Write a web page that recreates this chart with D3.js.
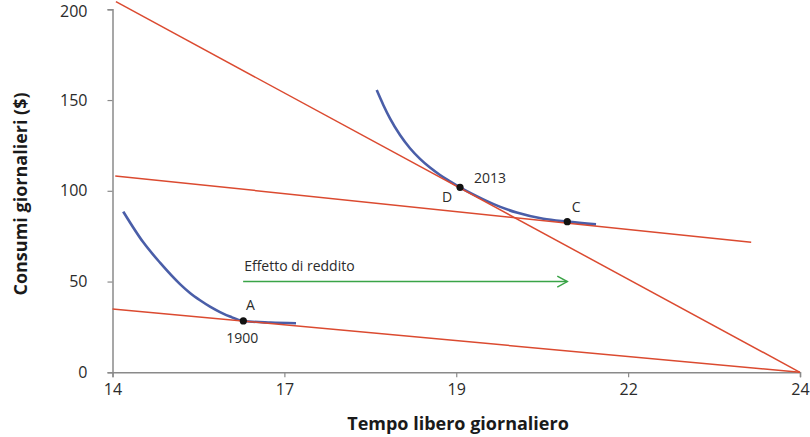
<!DOCTYPE html>
<html>
<head>
<meta charset="utf-8">
<script src="https://cdn.jsdelivr.net/npm/d3@7"></script>
<style>
  html, body { margin: 0; padding: 0; background: #fff; }
  svg { display: block; font-family: "Open Sans", "Noto Sans", sans-serif; }
</style>
</head>
<body>
<svg id="chart" width="810" height="437"></svg>
<script>
// ---- data ----
const xTickValues = [14, 16.5, 19, 21.5, 24];
const xTickLabels = ["14", "17", "19", "22", "24"];
const yTickValues = [0, 50, 100, 150, 200];

const budget2013 = [[14.05, 204.2], [24, 0]];
const budget1900 = [[14, 34.9], [24, 0]];
const budgetComp = [[14.04, 108.2], [23.29, 71.6]];

const indiff1900 = [
  [14.157, 88.5], [14.448, 71.6], [14.691, 60.4], [14.982, 48.6],
  [15.127, 43.7], [15.273, 39.7], [15.418, 36.2], [15.564, 33.2],
  [15.709, 30.7], [15.903, 28.3], [16.3, 27.4], [16.669, 27.0]
];
const indiff2013 = [
  [17.843, 155.5], [17.939, 147.3], [18.036, 139.9], [18.182, 130.7],
  [18.327, 123.45], [18.473, 117.6], [18.618, 112.8], [18.764, 108.7],
  [18.909, 105.2], [19.055, 101.9], [19.393, 95.3], [19.65, 91.0],
  [19.879, 88.0], [20.266, 84.6], [20.615, 83.0], [21.033, 81.5]
];

const pointNames = ["A", "D", "C"];
const pointX = [15.903, 19.055, 20.615];
const pointY = [28.3, 101.9, 83.0];
const yearLabels = ["1900", "2013", ""];

const arrowFrom = [15.9, 50];
const arrowTo = [20.615, 50];
const arrowLabel = "Effetto di reddito";

const xTitle = "Tempo libero giornaliero";
const yTitle = "Consumi giornalieri ($)";

// ---- drawing ----
const svg = d3.select("#chart");
const x = d3.scaleLinear().domain([14, 24]).range([112.5, 800]);
const y = d3.scaleLinear().domain([0, 200]).range([372.3, 9.3]);

const axisColor = "#8a8a8a";
const textColor = "#2b2b2b";
const red = "#db4a30";
const blue = "#4a5ea8";
const green = "#3aa447";

// axes
const xAxis = svg.append("g").attr("transform", `translate(0,${y(0)})`)
  .call(d3.axisBottom(x).tickValues(xTickValues)
    .tickFormat((d, i) => xTickLabels[i]).tickSizeOuter(0).tickSize(5).tickPadding(6));
const yAxis = svg.append("g").attr("transform", `translate(${x(14)},0)`)
  .call(d3.axisLeft(y).tickValues(yTickValues).tickSizeOuter(0).tickSize(5).tickPadding(20));

[xAxis, yAxis].forEach(g => {
  g.select(".domain").attr("stroke", axisColor).attr("stroke-width", 1.5);
  g.selectAll(".tick line").attr("stroke", axisColor).attr("stroke-width", 1.2);
  g.selectAll(".tick text").attr("fill", textColor)
    .style("font-size", "16px").style("font-family", "'Open Sans', sans-serif");
});
yAxis.selectAll(".tick text").filter(d => d === 200).attr("dy", "0.38em").attr("y", 1);

// axis titles
svg.append("text").attr("x", 458).attr("y", 430)
  .attr("text-anchor", "middle").attr("fill", "#1a1a1a")
  .style("font-size", "18px").style("font-weight", "bold")
  .text(xTitle);
svg.append("text")
  .attr("transform", `translate(27,${194}) rotate(-90)`)
  .attr("text-anchor", "middle").attr("fill", "#1a1a1a")
  .style("font-size", "18px").style("font-weight", "bold")
  .text(yTitle);

const line = d3.line().x(d => x(d[0])).y(d => y(d[1]));
const curve = d3.line().x(d => x(d[0])).y(d => y(d[1])).curve(d3.curveMonotoneX);

// indifference curves
[indiff1900, indiff2013].forEach(data => {
  svg.append("path").attr("d", curve(data)).attr("fill", "none")
    .attr("stroke", blue).attr("stroke-width", 2.6).attr("stroke-linecap", "butt");
});

// budget lines
[budget2013, budget1900, budgetComp].forEach(data => {
  svg.append("path").attr("d", line(data)).attr("fill", "none")
    .attr("stroke", red).attr("stroke-width", 1.5);
});

// income effect arrow
const ax1 = x(arrowFrom[0]), ax2 = x(arrowTo[0]), ay = y(arrowFrom[1]);
svg.append("line").attr("x1", ax1).attr("x2", ax2).attr("y1", ay).attr("y2", ay)
  .attr("stroke", green).attr("stroke-width", 1.5);
svg.append("path")
  .attr("d", `M${ax2 - 10},${ay - 5.5}L${ax2},${ay}L${ax2 - 10},${ay + 5.5}`)
  .attr("fill", "none").attr("stroke", green).attr("stroke-width", 1.5);
svg.append("text").attr("x", ax1 + 1).attr("y", ay - 11)
  .attr("fill", textColor).style("font-size", "14px").text(arrowLabel);

// points
const pts = pointNames.map((n, i) => ({ name: n, x: pointX[i], y: pointY[i], year: yearLabels[i] }));
svg.selectAll("circle.pt").data(pts).enter().append("circle")
  .attr("class", "pt").attr("cx", d => x(d.x)).attr("cy", d => y(d.y)).attr("r", 3.6)
  .attr("fill", "#111");

const nameOffset = { A: [7, -16], D: [-13, 9], C: [9, -15.5] };
const yearOffset = { A: [-1, 17], D: [30, -10] };
svg.selectAll("text.pname").data(pts).enter().append("text")
  .attr("class", "pname")
  .attr("x", d => x(d.x) + nameOffset[d.name][0])
  .attr("y", d => y(d.y) + nameOffset[d.name][1])
  .attr("text-anchor", "middle").attr("dominant-baseline", "central")
  .attr("fill", textColor).style("font-size", "14px").text(d => d.name);
svg.selectAll("text.pyear").data(pts.filter(d => d.year)).enter().append("text")
  .attr("class", "pyear")
  .attr("x", d => x(d.x) + yearOffset[d.name][0])
  .attr("y", d => y(d.y) + yearOffset[d.name][1])
  .attr("text-anchor", "middle").attr("dominant-baseline", "central")
  .attr("fill", textColor).style("font-size", "14px").text(d => d.year);
</script>
</body>
</html>
